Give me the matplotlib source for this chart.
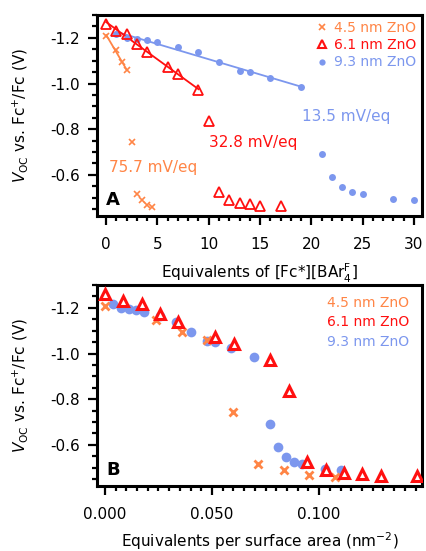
import numpy as np
import matplotlib
matplotlib.use("Agg")
import matplotlib.pyplot as plt
from matplotlib.lines import Line2D
from matplotlib.ticker import MultipleLocator, FormatStrFormatter

plt.rcParams["font.family"] = "DejaVu Sans"
plt.rcParams["mathtext.fontset"] = "dejavusans"
plt.rcParams["axes.unicode_minus"] = False

ORANGE = "#FF8546"
RED = "#FF1010"
BLUE = "#7C97EE"

# equivalents of [Fc*][BArF4] and open-circuit voltage (V vs Fc+/Fc)
eq_45 = [0, 1, 1.5, 2, 2.5, 3, 3.5, 4, 4.5]
voc_45 = [-1.208, -1.146, -1.095, -1.057, -0.744, -0.516, -0.488, -0.469, -0.459]

eq_61 = [0, 1, 2, 3, 4, 6, 7, 9, 10, 11, 12, 13, 14, 15, 17]
voc_61 = [-1.262, -1.232, -1.217, -1.171, -1.137, -1.074, -1.041, -0.972,
          -0.838, -0.523, -0.491, -0.479, -0.471, -0.465, -0.462]

eq_93 = [1, 2, 3, 4, 5, 7, 9, 11, 13, 14, 16, 19, 21, 22, 23, 24, 25, 28, 30]
voc_93 = [-1.216, -1.201, -1.194, -1.191, -1.182, -1.162, -1.136, -1.094,
          -1.056, -1.050, -1.022, -0.984, -0.691, -0.592, -0.547, -0.527,
          -0.517, -0.495, -0.488]

# points used in the linear fits (first n points of each series)
n_fit = {"4.5": 4, "6.1": 8, "9.3": 12}
slope_labels = {"4.5": "75.7 mV/eq", "6.1": "32.8 mV/eq", "9.3": "13.5 mV/eq"}

# equivalents -> equivalents per nm^2 of particle surface
per_area = {"4.5": 0.02385, "6.1": 0.00858, "9.3": 0.003672}

series = [
    ("9.3", eq_93, voc_93, BLUE, "o"),
    ("4.5", eq_45, voc_45, ORANGE, "x"),
    ("6.1", eq_61, voc_61, RED, "^"),
]

fig = plt.figure(figsize=(4.26, 5.51), dpi=100)
ax_a = fig.add_axes([0.2277, 0.608, 0.7629, 0.3648])
ax_b = fig.add_axes([0.2277, 0.118, 0.7629, 0.3648])

style_a = {"o": dict(ms=5, mew=0), "x": dict(ms=4.5, mew=1.2),
           "^": dict(ms=6.5, mew=1.3, mfc="none")}
style_b = {"o": dict(ms=7, mew=0), "x": dict(ms=6, mew=2),
           "^": dict(ms=7, mew=2.2, mfc="white")}

for size, eq, voc, color, marker in series:
    eq = np.array(eq, dtype=float)
    voc = np.array(voc)
    n = n_fit[size]
    slope, icpt = np.polyfit(eq[:n], voc[:n], 1)
    xfit = np.array([eq[0], eq[n - 1]])
    ax_a.plot(xfit, slope * xfit + icpt, color=color, lw=1.3, zorder=2)
    ax_a.plot(eq, voc, linestyle="none", marker=marker, color=color,
              zorder=3, **style_a[marker])
    ax_b.plot(eq * per_area[size], voc, linestyle="none", marker=marker,
              color=color, zorder=3, **style_b[marker])

# slope annotations
ax_a.text(23.4, -0.854, slope_labels["9.3"], color=BLUE, fontsize=11,
          ha="center", va="center")
ax_a.text(14.3, -0.740, slope_labels["6.1"], color=RED, fontsize=11,
          ha="center", va="center")
ax_a.text(4.6, -0.631, slope_labels["4.5"], color=ORANGE, fontsize=11,
          ha="center", va="center")

# legends
handles = [
    Line2D([], [], linestyle="none", marker="x", color=ORANGE, ms=4, mew=1.2),
    Line2D([], [], linestyle="none", marker="^", color=RED, ms=6, mew=1.5,
           mfc="none"),
    Line2D([], [], linestyle="none", marker="o", color=BLUE, ms=4.5, mew=0),
]
labels = ["4.5 nm ZnO", "6.1 nm ZnO", "9.3 nm ZnO"]
ax_a.legend(handles, labels, loc="upper right", frameon=False, fontsize=10,
            labelcolor=[ORANGE, RED, BLUE], handlelength=0.8,
            handletextpad=0.5, labelspacing=0.25, borderaxespad=0.2,
            borderpad=0.2)
for lab, col, yy in zip(labels, [ORANGE, RED, BLUE], [0.91, 0.815, 0.715]):
    ax_b.text(0.96, yy, lab, color=col, fontsize=10, ha="right", va="center",
              transform=ax_b.transAxes)

ax_a.text(0.028, 0.035, "A", transform=ax_a.transAxes, fontsize=13,
          fontweight="bold", ha="left", va="bottom")
ax_b.text(0.028, 0.035, "B", transform=ax_b.transAxes, fontsize=13,
          fontweight="bold", ha="left", va="bottom")

ylabel = r"$V_{\mathrm{OC}}$ vs. Fc$^{+}$/Fc (V)"
for ax in (ax_a, ax_b):
    ax.set_ylim(-0.42, -1.30)
    ax.yaxis.set_major_locator(MultipleLocator(0.2))
    ax.yaxis.set_minor_locator(MultipleLocator(0.05))
    ax.yaxis.set_major_formatter(FormatStrFormatter("%.1f"))
    ax.set_ylabel(ylabel, fontsize=11, labelpad=14)
    for side in ax.spines.values():
        side.set_linewidth(2.2)
    ax.tick_params(which="major", direction="out", length=6.5, width=1.6,
                   labelsize=11)
    ax.tick_params(which="minor", direction="out", length=3.6, width=1.6)
    ax.tick_params(axis="y", which="major", pad=6)
    ax.tick_params(axis="x", which="major", pad=8.5)

ax_a.set_xlim(-0.9, 30.8)
ax_a.xaxis.set_major_locator(MultipleLocator(5))
ax_a.xaxis.set_minor_locator(MultipleLocator(1))
ax_a.set_xlabel(r"Equivalents of [Fc*][BAr$^{\mathrm{F}}_{4}$]", fontsize=11,
                labelpad=7)

ax_b.set_xlim(-0.0037, 0.148)
ax_b.xaxis.set_major_locator(MultipleLocator(0.05))
ax_b.xaxis.set_minor_locator(MultipleLocator(0.005))
ax_b.xaxis.set_major_formatter(FormatStrFormatter("%.3f"))
ax_b.set_xlabel(r"Equivalents per surface area (nm$^{-2}$)", fontsize=11,
                labelpad=6)

fig.savefig("out.png", dpi=100)
